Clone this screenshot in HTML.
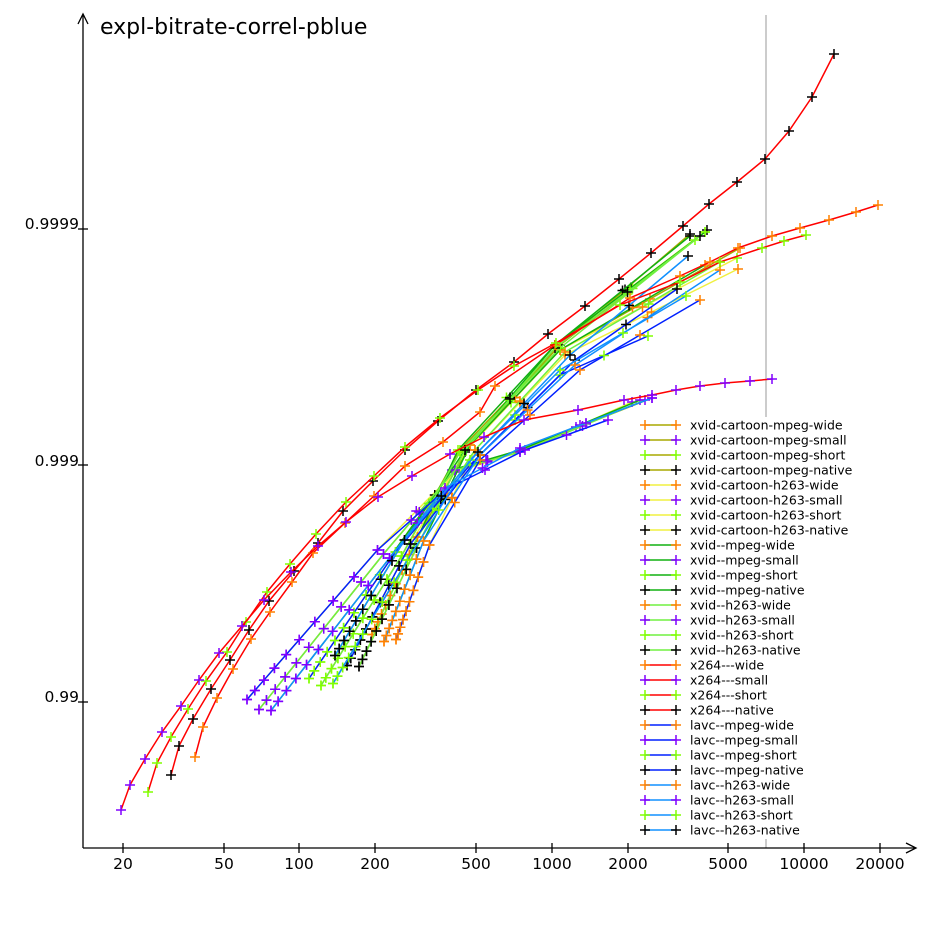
<!DOCTYPE html>
<html><head><meta charset="utf-8"><style>
html,body{margin:0;padding:0;background:#fff}
svg{display:block}
text{font-family:"DejaVu Sans","Liberation Sans",sans-serif}
</style></head><body>
<svg id="s" width="933" height="933" xmlns="http://www.w3.org/2000/svg">
<rect width="933" height="933" fill="#fff"/>
<line x1="766" y1="15" x2="766" y2="418" stroke="#bbb" stroke-width="1.5"/>
<line x1="766" y1="835" x2="766" y2="848" stroke="#bbb" stroke-width="1.5"/>
<g stroke="#000" stroke-width="1.3" fill="none">
<line x1="83" y1="848" x2="83" y2="15"/>
<polyline points="78,24 83,14 88,24"/>
<line x1="83" y1="848" x2="915" y2="848"/>
<polyline points="906,843 916,848 906,853"/>
<line x1="78" y1="229" x2="88" y2="229"/>
<line x1="78" y1="465" x2="88" y2="465"/>
<line x1="78" y1="702" x2="88" y2="702"/>
<line x1="123" y1="843" x2="123" y2="853"/>
<line x1="224" y1="843" x2="224" y2="853"/>
<line x1="299" y1="843" x2="299" y2="853"/>
<line x1="375" y1="843" x2="375" y2="853"/>
<line x1="476" y1="843" x2="476" y2="853"/>
<line x1="552" y1="843" x2="552" y2="853"/>
<line x1="628" y1="843" x2="628" y2="853"/>
<line x1="728" y1="843" x2="728" y2="853"/>
<line x1="804" y1="843" x2="804" y2="853"/>
<line x1="880" y1="843" x2="880" y2="853"/>
</g>
<g font-size="15.5" fill="#000" text-anchor="middle">
<text x="123" y="869">20</text><text x="224" y="869">50</text><text x="299" y="869">100</text>
<text x="375" y="869">200</text><text x="476" y="869">500</text><text x="552" y="869">1000</text>
<text x="628" y="869">2000</text><text x="728" y="869">5000</text><text x="804" y="869">10000</text>
<text x="880" y="869">20000</text>
</g>
<g font-size="15.5" fill="#000" text-anchor="end">
<text x="79" y="229">0.9999</text><text x="79" y="466">0.999</text><text x="79" y="702">0.99</text>
</g>
<text x="100" y="34" font-size="22">expl-bitrate-correl-pblue</text>
<g id="data"></g>
<g id="leg"></g>
</svg>
<script>
var NS="http://www.w3.org/2000/svg",D=document.getElementById("data"),L=document.getElementById("leg");
function el(p,n,a){var e=document.createElementNS(NS,n);for(var k in a)e.setAttribute(k,a[k]);p.appendChild(e);return e;}
function mk(p,x,y,c){el(p,"path",{d:"M"+(x-5)+" "+y+"h10M"+x+" "+(y-5)+"v10",stroke:c,"stroke-width":1.5,fill:"none"});}
var OR="#ff8000",PU="#8000ff",GR="#80ff00",BK="#000";
function poly(pts,lc,mc){el(D,"polyline",{points:pts.map(function(p){return p.join(",")}).join(" "),stroke:lc,"stroke-width":1.5,fill:"none"});pts.forEach(function(p){mk(D,p[0],p[1],mc)});}
var LC={cm:"#a8a800",ch:"#f0f040",xm:"#10b010",xh:"#70f040",lm:"#0020ff",lh:"#1090ff"};
var S={small:[[262,712],PU],short:[[318,686],GR],native:[[350,668],BK],wide:[[381,642],OR]};
var P1={small:[385,555],short:[400,555],native:[412,545],wide:[422,540]};
var ends={
cm:{wide:[[470,445],[560,350],[740,248]],small:[[455,470],[520,450],[652,398]],short:[[460,450],[560,345],[705,232]],native:[[465,450],[560,345],[690,234]]},
ch:{wide:[[475,450],[565,355],[738,269]],small:[[455,472],[520,452],[632,402]],short:[[462,455],[560,350],[737,258]],native:[[465,452],[555,345],[707,230]]},
xm:{wide:[[470,445],[560,350],[705,265]],small:[[452,470],[520,450],[640,400]],short:[[458,450],[555,345],[705,232]],native:[[465,450],[555,345],[690,236]]},
xh:{wide:[[475,450],[565,352],[720,262]],small:[[455,470],[520,452],[645,400]],short:[[460,452],[560,348],[695,240]],native:[[465,450],[555,348],[700,236]]},
lm:{wide:[[480,460],[580,370],[700,300]],small:[[445,490],[525,450],[608,420]],short:[[470,465],[560,375],[648,336]],native:[[480,455],[575,360],[677,289]]},
lh:{wide:[[480,455],[575,365],[720,270]],small:[[445,488],[520,448],[652,398]],short:[[470,460],[560,370],[686,296]],native:[[478,452],[570,355],[688,256]]}};
var order=["cm","ch","xm","xh","lm","lh"],k=0;
function lerp(a,b,t){return [a[0]+(b[0]-a[0])*t,a[1]+(b[1]-a[1])*t];}
order.forEach(function(c){["wide","small","short","native"].forEach(function(v){
 var s=S[v][0],p1=P1[v],e=ends[c][v];k++;
 var j=(k%6)-2.5;
 var s2=[s[0]+j*6,s[1]-Math.abs(j)*3+j*2];
 var q1=[p1[0]+j*3,p1[1]+j*2];
 var pts=[];
 [0,.06,.13,.21,.3,.4,.52,.66,.82].forEach(function(t){pts.push(lerp(s2,q1,t));});
 [0,.5].forEach(function(t){pts.push(lerp(q1,e[0],t));});
 [0,.5].forEach(function(t){pts.push(lerp(e[0],e[1],t));});
 [0,.5,1].forEach(function(t){pts.push(lerp(e[1],e[2],t));});
 poly(pts,LC[c],S[v][1]);
});});
var R="#ff0000";
poly([[171,775],[179,746],[193,719],[211,689],[230,660],[249,630],[269,601],[294,571],[318,543],[343,511],[373,481],[405,450],[438,421],[476,390],[514,362],[548,334],[585,306],[619,279],[651,253],[683,226],[709,204],[737,182],[765,159],[789,131],[812,97],[834,54]],R,BK);
poly([[195,757],[203,727],[217,698],[233,669],[251,639],[270,612],[292,582],[313,553],[345,523],[374,496],[405,466],[443,442],[480,412],[495,386],[555,345],[630,298],[680,276],[710,262],[738,248],[772,236],[800,228],[829,220],[856,212],[878,205]],R,OR);
poly([[148,792],[157,763],[171,737],[188,709],[206,681],[227,652],[246,622],[267,592],[290,564],[316,534],[346,502],[374,476],[405,447],[440,418],[478,390],[514,366],[556,343],[620,305],[680,282],[720,262],[762,248],[784,241],[806,235]],R,GR);
poly([[121,810],[130,785],[145,759],[162,732],[181,706],[199,680],[219,653],[242,626],[264,600],[291,572],[318,546],[346,522],[378,497],[412,476],[450,454],[484,437],[524,420],[578,410],[624,400],[652,395],[676,390],[700,386],[725,383],[750,381],[772,379]],R,PU);
var names=["xvid-cartoon-mpeg","xvid-cartoon-h263","xvid--mpeg","xvid--h263","x264--","lavc--mpeg","lavc--h263"];
var lcs=[LC.cm,LC.ch,LC.xm,LC.xh,R,LC.lm,LC.lh];
var vs=["wide","small","short","native"],mcs=[OR,PU,GR,BK];
el(L,"rect",{x:642,y:417,width:224,height:422,fill:"#fff"});
var y=425;
for(var i=0;i<7;i++)for(var j=0;j<4;j++){
 el(L,"line",{x1:645,y1:y,x2:676,y2:y,stroke:lcs[i],"stroke-width":1.5});
 mk(L,645,y,mcs[j]);mk(L,676,y,mcs[j]);
 var t=el(L,"text",{x:690,y:y+4.5,"font-size":"12.5"});t.textContent=names[i]+"-"+vs[j];
 y+=15;
}
</script>
</body></html>
